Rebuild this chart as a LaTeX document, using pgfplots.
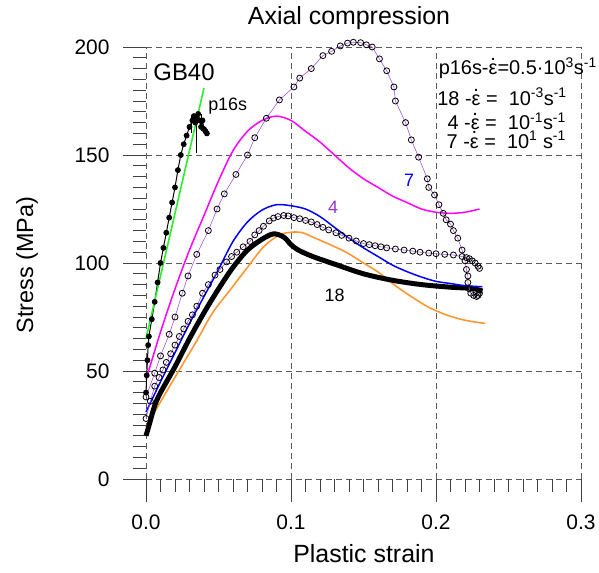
\documentclass[border=0pt]{standalone}
\usepackage{pgfplots}
\pgfplotsset{compat=1.18}
\usepackage{fontspec}
\setmainfont{Liberation Sans}

\definecolor{cmag}{RGB}{255,0,255}
\definecolor{cblue}{RGB}{0,0,255}
\definecolor{corange}{RGB}{255,150,50}
\definecolor{cgreen}{RGB}{40,240,40}
\definecolor{cpurple}{RGB}{165,85,225}
\definecolor{clab}{RGB}{153,51,204}
\definecolor{cgrid}{RGB}{90,90,90}

\newcommand\tfont{\fontsize{21}{25}\selectfont}
\newcommand\lfont{\fontsize{18}{21}\selectfont}
\newcommand\gfont{\fontsize{20}{23}\selectfont}
\newcommand\edot{\ooalign{ε\cr\hidewidth\raisebox{0.72em}{.}\hidewidth\cr}}

\begin{document}
\begin{tikzpicture}
  \begin{axis}[
      scale only axis, width=435bp, height=432bp,
      xmin=0, xmax=0.3, ymin=0, ymax=200,
      axis lines*=left, axis line style={draw=none},
      clip=false,
      xtick={0,0.1,0.2,0.3}, ytick={0,50,100,150,200},
      minor x tick num=9, minor y tick num=9,
      tick align=outside,
      major tick length=23bp, minor tick length=13bp,
      every tick/.style={black!75, line width=0.9pt},
      grid=major,
      major grid style={cgrid, line width=0.8pt, dash pattern=on 6bp off 4bp},
      tick label style={font=\tfont},
      /pgf/number format/assume math mode=true,
      xticklabel style={yshift=-9bp, /pgf/number format/.cd, fixed, fixed zerofill, precision=1},
      yticklabel style={xshift=-10bp},
    ]
    % orange model curve
    \addplot[corange, line width=1.6pt, smooth] coordinates {
      (0,24) (0.012,38) (0.023,50.5) (0.035,64) (0.046,77) (0.058,87.5)
      (0.070,98) (0.081,107.4) (0.092,113) (0.101,114.3) (0.108,114)
      (0.115,112) (0.127,108.5) (0.138,105) (0.150,100) (0.161,95.4)
      (0.172,89.5) (0.184,84) (0.195,79.5) (0.207,76) (0.220,73.5) (0.234,72)};
    % 18 : thick black
    \addplot[black, line width=5pt, smooth] coordinates {
      (0,20) (0.003,27) (0.006,34) (0.010,40) (0.020,52) (0.030,65) (0.040,77)
      (0.050,88) (0.060,98) (0.070,106) (0.080,111) (0.088,113.5) (0.095,112)
      (0.100,108.5) (0.105,106) (0.115,103) (0.130,99.5) (0.150,95) (0.170,92)
      (0.190,90) (0.210,88.8) (0.225,88.2) (0.232,87)};
    % blue
    \addplot[cblue, line width=1.5pt, smooth] coordinates {
      (0,31) (0.01,45) (0.02,58.5) (0.03,72) (0.04,84.5) (0.05,97) (0.06,110)
      (0.07,119) (0.08,124.5) (0.09,127) (0.10,126.5) (0.11,125) (0.12,121.5)
      (0.13,116.5) (0.14,111.5) (0.15,107) (0.16,103) (0.17,99) (0.18,96)
      (0.19,93.5) (0.20,91.5) (0.21,90.5) (0.22,89.5) (0.232,89)};
    % magenta
    \addplot[cmag, line width=1.5pt, smooth] coordinates {
      (0,46) (0.01,68) (0.02,88) (0.03,106) (0.04,122) (0.05,138) (0.06,152)
      (0.07,161) (0.08,166) (0.09,168) (0.10,166) (0.11,161) (0.12,156)
      (0.13,150) (0.14,144) (0.15,139) (0.16,135) (0.17,131) (0.18,128)
      (0.19,125) (0.20,123.5) (0.21,123) (0.22,123.5) (0.23,125)};
    % mid circles curve
    \addplot[cpurple, line width=0.6pt, mark=o, mark size=3bp,
      mark options={draw=black, fill=white, line width=0.8pt}] coordinates {
      (0,28) (0.003,36) (0.006,43) (0.009,47) (0.0117,50.5) (0.014,54) (0.017,58)
      (0.020,62) (0.023,66) (0.026,69.5) (0.029,73) (0.032,76) (0.035,80)
      (0.039,86) (0.043,90) (0.0476,94.4) (0.051,97) (0.0556,100.5) (0.059,103)
      (0.0626,105) (0.067,107.5) (0.0717,110) (0.075,113) (0.078,115) (0.081,117)
      (0.085,119.5) (0.088,120.8) (0.091,121.5) (0.095,122) (0.098,121.8)
      (0.102,121) (0.106,120.5) (0.110,119.7) (0.114,119) (0.118,117.8)
      (0.122,116.5) (0.126,115.3) (0.131,114) (0.135,112.8) (0.140,111.5)
      (0.145,110.2) (0.150,109) (0.154,108.5) (0.158,108) (0.162,107.5)
      (0.166,107) (0.172,106.5) (0.178,106) (0.184,105.5) (0.189,105)
      (0.195,104.6) (0.200,104.3) (0.206,104) (0.212,103.7) (0.218,103)
      (0.221,102.5) (0.223,102) (0.225,101) (0.227,100) (0.229,98.5) (0.230,97.5)};
    % tall circles curve
    \addplot[cpurple, line width=0.6pt, mark=o, mark size=3bp,
      mark options={draw=black, fill=white, line width=0.8pt}] coordinates {
      (0,38) (0.006,49) (0.010,57) (0.016,67) (0.020,75) (0.025,86) (0.029,94)
      (0.035,104) (0.043,115) (0.049,125) (0.054,132) (0.062,141) (0.070,150)
      (0.075,158) (0.083,167) (0.092,175.5) (0.102,181.5) (0.106,185.6)
      (0.114,190) (0.122,196) (0.128,198) (0.134,200.5) (0.139,201.8)
      (0.143,202.2) (0.148,202) (0.152,201) (0.156,200) (0.161,194.5)
      (0.166,189) (0.171,181.5) (0.172,175) (0.179,165) (0.183,157) (0.188,149)
      (0.194,139) (0.195,135) (0.199,131.5) (0.202,127) (0.205,123) (0.207,120)
      (0.210,118) (0.212,115) (0.215,111.5) (0.218,106) (0.220,101) (0.221,97)
      (0.222,94) (0.222,91) (0.223,88) (0.224,86) (0.226,85) (0.228,84.5)
      (0.229,85) (0.230,86)};
    % p16s
    \addplot[black, line width=1pt, mark=*, mark size=2.4bp] coordinates {
      (0.0,40) (0.0005,48) (0.001,55) (0.0015,62) (0.002,66) (0.004,74)
      (0.006,82) (0.008,91) (0.010,100) (0.012,107) (0.014,114) (0.016,121)
      (0.018,128) (0.020,135) (0.022,143) (0.024,150) (0.026,155) (0.028,159)
      (0.030,163) (0.032,166) (0.033,168) (0.034,165) (0.035,167) (0.036,169)
      (0.037,166) (0.038,163) (0.039,166) (0.040,162) (0.041,161) (0.042,160)};
    \addplot[black, line width=0.8pt, draw=none,
      error bars/.cd, y dir=both, y explicit,
      error bar style={black, line width=0.8pt}, error mark=none]
      coordinates {(0.035,160) +- (0,9) (0.031,164) +- (0,4) (0.038,165) +- (0,4)};
    % green fit
    \addplot[cgreen, line width=1.6pt] coordinates {(0,65) (0.040,181)};

    % texts
    \node[font=\fontsize{25}{29}\selectfont] at (axis cs:0.140,213.4) {Axial compression};
    \node[font=\fontsize{25}{29}\selectfont] at (axis cs:0.1503,-34.3) {Plastic strain};
    \node[font=\fontsize{23.5}{27}\selectfont, rotate=90] at (axis cs:-0.0821,99.1) {Stress (MPa)};
    \node[font=\fontsize{24}{28}\selectfont, anchor=west, inner sep=0pt] at (axis cs:0.005,188.4) {GB40};
    \node[font=\lfont, anchor=west, inner sep=0pt] at (axis cs:0.0428,172.7) {p16s};
    \node[font=\lfont, text=cblue] at (axis cs:0.1814,138.4) {7};
    \node[font=\lfont, text=clab] at (axis cs:0.129,126) {4};
    \node[font=\lfont] at (axis cs:0.130,85.2) {18};
    \node[font=\gfont, anchor=east, inner sep=0pt] at (axis cs:0.311,190.3)
      {p16s-\edot=0.5·10\textsuperscript{3}s\textsuperscript{-1}};
    \node[font=\gfont, anchor=east, inner sep=0pt] at (axis cs:0.2903,176.9)
      {18 -\edot\ = \ 10\textsuperscript{-3}s\textsuperscript{-1}};
    \node[font=\gfont, anchor=east, inner sep=0pt] at (axis cs:0.2897,165.7)
      {4 -\edot\ = \ 10\textsuperscript{-1}s\textsuperscript{-1}};
    \node[font=\gfont, anchor=east, inner sep=0pt] at (axis cs:0.2897,157)
      {7 -\edot\ = \ 10\textsuperscript{1} s\textsuperscript{-1}};
    % page frame
    \path (axis cs:-0.10069,-43.06) rectangle (axis cs:0.31241,221.76);
  \end{axis}
\end{tikzpicture}
\end{document}
